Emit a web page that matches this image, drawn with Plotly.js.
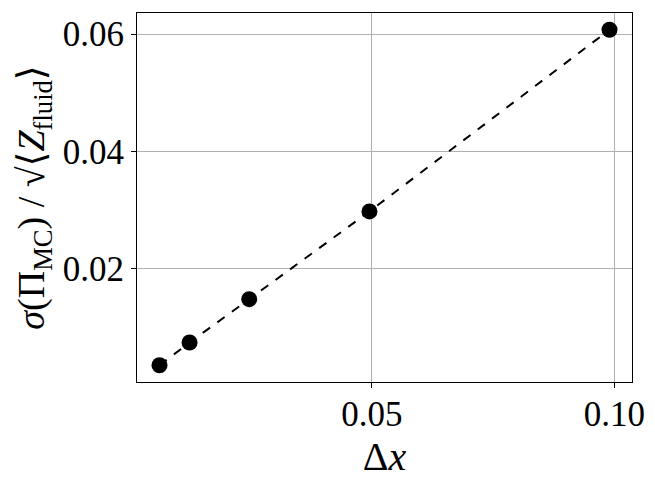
<!DOCTYPE html>
<html>
<head>
<meta charset="utf-8">
<script src="https://cdn.plot.ly/plotly-3.0.1.min.js"></script>
<style>
  html, body { margin: 0; padding: 0; background: #fff; }
  #myDiv { width: 655px; height: 482px; }
</style>
</head>
<body>
<div id="myDiv"></div>
<script>
  // grid spacing and the scaled Monte Carlo noise
  var dx = [0.0062, 0.0124, 0.0247, 0.0495, 0.099];
  var sigma = [0.00356, 0.00743, 0.01482, 0.02977, 0.06073];
  var xTicks = [0.05, 0.10];
  var yTicks = [0.02, 0.04, 0.06];

  var trace1 = {
    x: dx,
    y: sigma,
    mode: 'lines+markers',
    type: 'scatter',
    line: { color: 'black', width: 2, dash: 'dash' },
    marker: { color: 'black', size: 16 },
    showlegend: false
  };

  var serif = 'Liberation Serif, DejaVu Serif, serif';

  var layout = {
    width: 655,
    height: 482,
    margin: { l: 137, r: 23, t: 13, b: 100 },
    paper_bgcolor: 'white',
    plot_bgcolor: 'white',
    font: { family: serif, color: 'black' },
    xaxis: {
      range: [0.00156, 0.10364],
      tickvals: xTicks,
      ticktext: xTicks.map(function (v) { return v.toFixed(2); }),
      ticks: 'outside',
      ticklen: 5,
      tickwidth: 1,
      tickcolor: 'black',
      ticklabelstandoff: -4,
      showgrid: true,
      gridcolor: '#b0b0b0',
      gridwidth: 1,
      showline: true,
      linecolor: 'black',
      linewidth: 1.2,
      mirror: true,
      zeroline: false,
      tickfont: { family: serif, size: 35 },
      title: { text: 'Δ<i>x</i>', font: { family: serif, size: 40 }, standoff: 4 }
    },
    yaxis: {
      range: [0.0007, 0.06359],
      tickvals: yTicks,
      ticktext: yTicks.map(function (v) { return v.toFixed(2); }),
      ticks: 'outside',
      ticklen: 5,
      tickwidth: 1,
      tickcolor: 'black',
      showgrid: true,
      gridcolor: '#b0b0b0',
      gridwidth: 1,
      showline: true,
      linecolor: 'black',
      linewidth: 1.2,
      mirror: true,
      zeroline: false,
      tickfont: { family: serif, size: 35 },
      title: {
        text: '<i>σ</i>(Π<sub>MC</sub>) / √⟨<i>Z</i><sub>fluid</sub>⟩',
        font: { family: serif, size: 38 },
        standoff: 6
      }
    }
  };

  Plotly.newPlot('myDiv', [trace1], layout, { displayModeBar: false });
</script>
</body>
</html>
